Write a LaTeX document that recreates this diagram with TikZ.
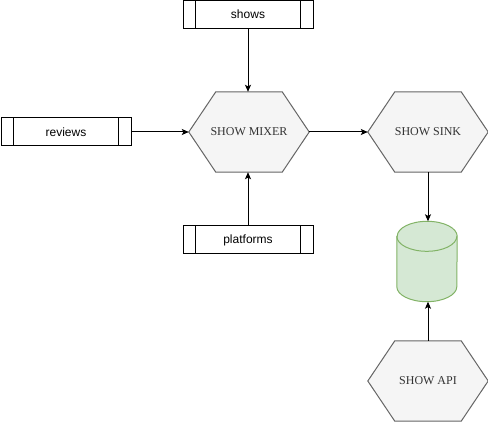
\documentclass[tikz,border=0pt]{standalone}
\usepackage{fontspec}
\setmainfont{Liberation Serif}
\newfontfamily\boxfont{Liberation Sans}
\usetikzlibrary{arrows.meta,backgrounds}

\definecolor{hexfill}{HTML}{F5F5F5}
\definecolor{hexline}{HTML}{666666}
\definecolor{hextext}{HTML}{333333}
\definecolor{dbfill}{HTML}{D5E8D4}
\definecolor{dbline}{HTML}{82B366}

\tikzset{
  procbox/.style={draw=black, fill=white, line width=1pt, minimum width=130pt,
    minimum height=28pt, inner sep=0pt, font=\boxfont\fontsize{12}{14}\selectfont},
  hexnode/.style={minimum width=120pt, minimum height=80pt, inner sep=0pt,
    text=hextext, font=\fontsize{12}{14}\selectfont},
  hexshape/.style={draw=hexline, fill=hexfill, line width=1pt, line join=miter},
  dbnode/.style={minimum width=60pt, minimum height=80pt, inner sep=0pt},
  flow/.style={draw=black, line width=1pt, -{Stealth[length=7pt,width=6pt,inset=1.5pt]}},
}

\begin{document}
\begin{tikzpicture}[x=1pt,y=-1pt]
\useasboundingbox (0,0) rectangle (488,422);

% input streams
\node[procbox] (shows) at (248,14.5) {shows};
\node[procbox] (reviews) at (66,132) {reviews};
\node[procbox] (platforms) at (248,240) {platforms};
\foreach \b in {shows,reviews,platforms}{
  \draw[line width=1pt] ([xshift=13pt]\b.north west) -- ([xshift=13pt]\b.south west);
  \draw[line width=1pt] ([xshift=-13pt]\b.north east) -- ([xshift=-13pt]\b.south east);
}

% processing services
\node[hexnode] (mixer) at (249,132) {SHOW MIXER};
\node[hexnode] (sink) at (428,132) {SHOW SINK};
\node[hexnode] (api) at (428,381) {SHOW API};

% storage
\node[dbnode] (db) at (427,261.5) {};

\begin{scope}[on background layer]
  \foreach \h in {mixer,sink,api}{
    \path[hexshape] (\h.west) -- ([xshift=27pt]\h.north west) -- ([xshift=-27pt]\h.north east)
      -- (\h.east) -- ([xshift=-27pt]\h.south east) -- ([xshift=27pt]\h.south west) -- cycle;
  }
  \path[draw=dbline, fill=dbfill, line width=1pt]
    ([yshift=-15pt]db.north west) -- ([yshift=15pt]db.south west)
    arc[start angle=180, end angle=360, x radius=30pt, y radius=15pt]
    -- ([yshift=-15pt]db.north east)
    arc[start angle=0, end angle=180, x radius=30pt, y radius=15pt] -- cycle;
  \draw[dbline, line width=1pt] ([yshift=-15pt]db.north west)
    arc[start angle=180, end angle=360, x radius=30pt, y radius=15pt];
\end{scope}

% data flow
\draw[flow] (shows.south) -- (shows.south |- mixer.north);
\draw[flow] (reviews.east) -- (mixer.west);
\draw[flow] (platforms.north) -- (platforms.north |- mixer.south);
\draw[flow] (mixer.east) -- (sink.west);
\draw[flow] (sink.south) -- (sink.south |- db.north);
\draw[flow] (api.north) -- (api.north |- db.south);
\end{tikzpicture}
\end{document}
